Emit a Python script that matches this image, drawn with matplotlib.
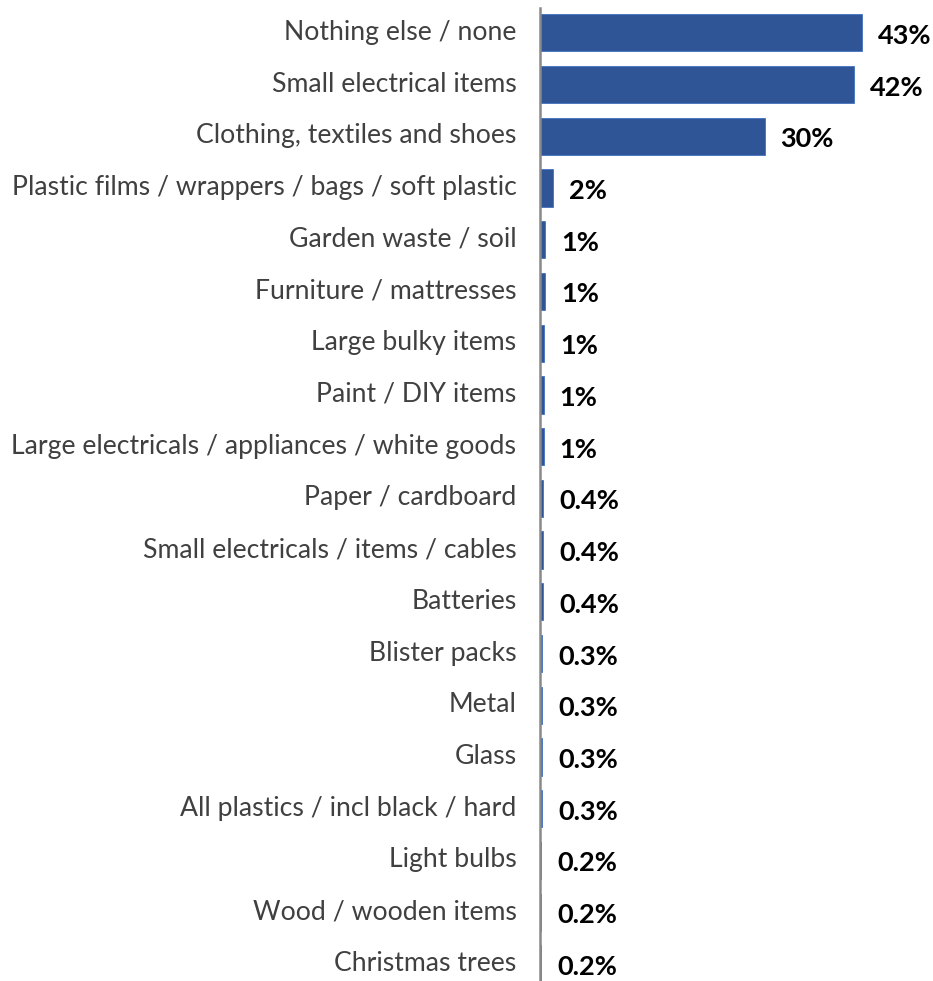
import matplotlib.pyplot as plt
import matplotlib.transforms as mtransforms
import numpy as np

plt.rcParams['font.family'] = ['Lato', 'DejaVu Sans']

categories = ['Nothing else / none', 'Small electrical items', 'Clothing, textiles and shoes',
              'Plastic films / wrappers / bags / soft plastic', 'Garden waste / soil',
              'Furniture / mattresses', 'Large bulky items', 'Paint / DIY items',
              'Large electricals / appliances / white goods', 'Paper / cardboard',
              'Small electricals / items / cables', 'Batteries', 'Blister packs', 'Metal',
              'Glass', 'All plastics / incl black / hard', 'Light bulbs',
              'Wood / wooden items', 'Christmas trees']
values = [43, 42, 30, 1.7, 0.7, 0.7, 0.6, 0.5, 0.5, 0.4, 0.4, 0.4, 0.3, 0.3, 0.3, 0.3, 0.2, 0.2, 0.2]
value_labels = ['43%', '42%', '30%', '2%', '1%', '1%', '1%', '1%', '1%', '0.4%', '0.4%', '0.4%',
                '0.3%', '0.3%', '0.3%', '0.3%', '0.2%', '0.2%', '0.2%']

fig = plt.figure(figsize=(9.33, 9.81), dpi=100)
ax = fig.add_axes([540 / 933, 0, 393 / 933, 973 / 981])

y = np.arange(len(categories))
ax.barh(y, values, height=0.72, color='#2F5597', edgecolor='#4472C4', linewidth=0.6)

for yi, v, lab in zip(y, values, value_labels):
    ax.annotate(lab, (v, yi), xytext=(16, -3), textcoords='offset pixels',
                ha='left', va='center', fontsize=19.5, fontweight='bold', color='black')

ax.set_yticks(y)
ax.set_yticklabels(categories, fontsize=19.2, color='#404040')
ax.tick_params(axis='y', length=0, pad=17)
# category labels sit a little above the bar centre
shift = mtransforms.ScaledTranslation(0, 3 / 100, fig.dpi_scale_trans)
for t in ax.get_yticklabels():
    t.set_transform(t.get_transform() + shift)
ax.set_xticks([])
ax.set_xlim(0, 52.5)
ax.set_ylim(len(categories) - 1 + 0.33, -0.48)

for s in ['top', 'right', 'bottom']:
    ax.spines[s].set_visible(False)
ax.spines['left'].set_color('#898989')
ax.spines['left'].set_linewidth(1.8)

fig.savefig('out.png', dpi=100)
